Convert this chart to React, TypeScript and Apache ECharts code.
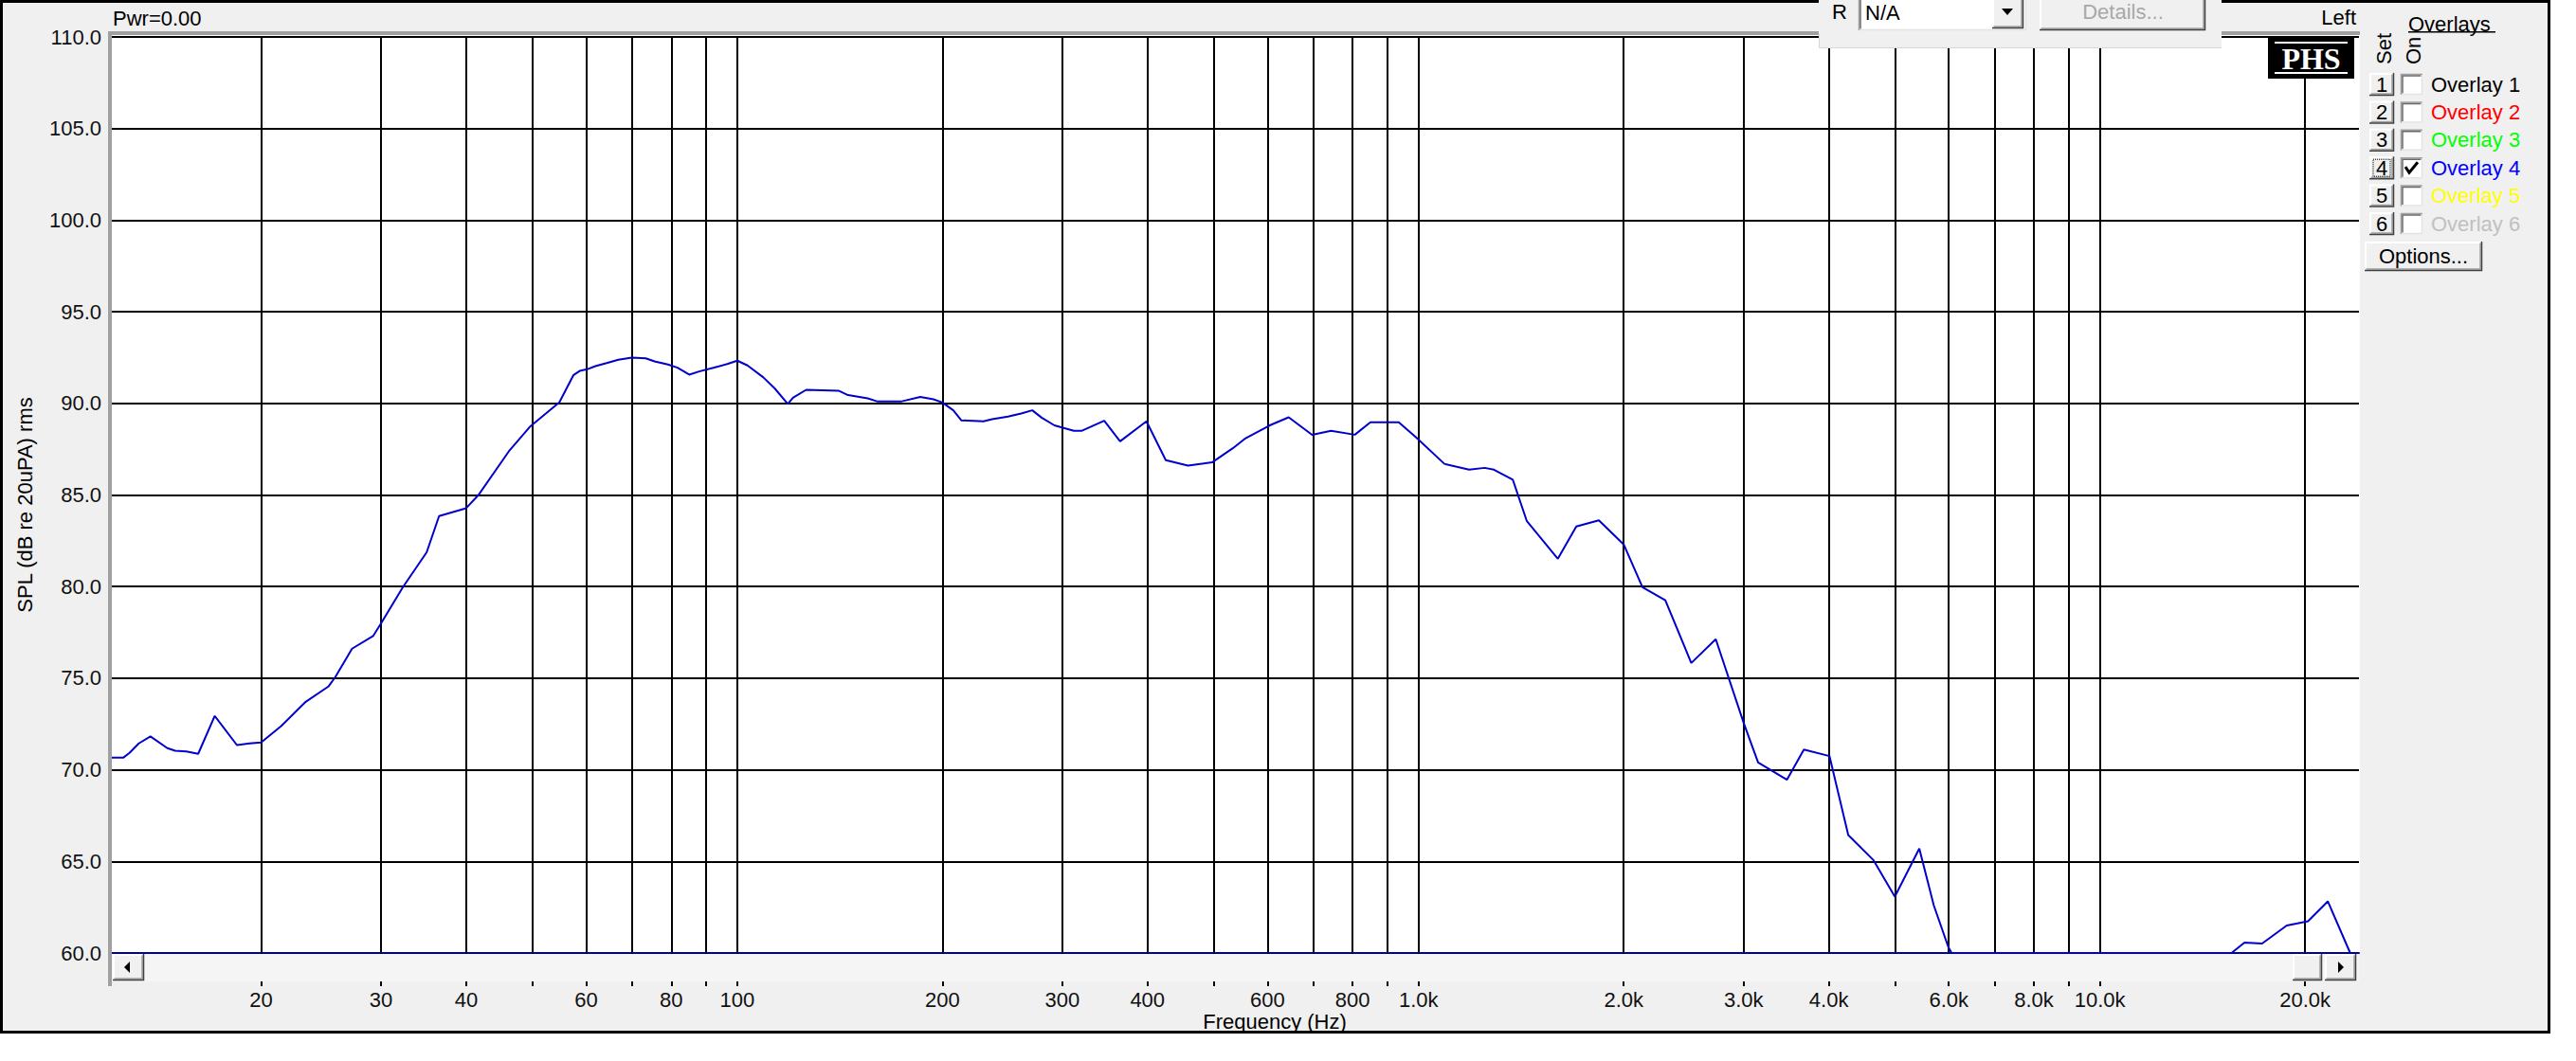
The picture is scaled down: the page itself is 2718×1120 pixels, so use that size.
import React, { useEffect, useRef } from "react";
import * as echarts from "echarts";

// ---------- data ----------
const FREQ_HZ = [
  12.0, 12.55, 12.82, 13.23, 13.76, 14.57, 14.96, 15.54, 16.17, 17.1, 18.43, 19.23, 20.0,
  21.4, 23.2, 25.1, 25.7, 27.2, 29.2, 30.0, 32.3, 35.0, 36.5, 40.0, 41.7, 46.2, 49.6,
  54.8, 57.5, 58.7, 60.2, 61.9, 64.3, 66.9, 70.0, 73.4, 75.6, 79.1, 81.7, 85.0, 87.9,
  92.5, 96.9, 100, 103.5, 109.1, 113.4, 118.6, 120.7, 126.2, 140.8, 145.4, 155.4, 160.7,
  173.8, 185.6, 194.1, 200, 207.5, 213.3, 229.8, 236.6, 249.6, 261, 271, 279.7, 292,
  311.8, 320, 345.6, 364.6, 398.6, 425.5, 458.6, 497.6, 533.7, 557.4, 604.6, 644.6,
  697.7, 743.7, 806.1, 849.7, 935, 990.8, 1091, 1186, 1250, 1290, 1375, 1441, 1601,
  1704, 1839, 2000, 2131, 2302, 2513, 2730, 3000, 3150, 3473, 3677, 4009, 4272, 4654,
  5000, 5431, 5704, 5993, 6060, 15600, 16300, 17300, 18800, 20200, 21600, 23300,
];
const SPL_DB = [
  70.66, 70.66, 70.92, 71.44, 71.82, 71.18, 71.04, 71.0, 70.87, 72.94, 71.35, 71.44, 71.49,
  72.38, 73.68, 74.54, 75.06, 76.61, 77.3, 77.99, 79.97, 81.87, 83.85, 84.28, 85.0, 87.38, 88.72,
  90.05, 91.55, 91.77, 91.86, 92.03, 92.2, 92.38, 92.5, 92.46, 92.29, 92.12, 91.95, 91.57, 91.74,
  91.95, 92.16, 92.33, 92.07, 91.43, 90.83, 89.97, 90.31, 90.74, 90.69, 90.45, 90.27, 90.1,
  90.1, 90.35, 90.22, 90.05, 89.62, 89.07, 89.02, 89.14, 89.28, 89.45, 89.62, 89.22, 88.8,
  88.5, 88.5, 89.05, 87.93, 89.02, 86.9, 86.6, 86.78, 87.55, 88.1, 88.8, 89.24,
  88.28, 88.5, 88.29, 88.97, 88.97, 88.15, 86.7, 86.38, 86.48, 86.38, 85.83, 83.59, 81.52,
  83.28, 83.62, 82.3, 79.97, 79.25, 75.83, 77.13, 72.56, 70.4, 69.46, 71.1, 70.75, 66.44, 65.06,
  63.08, 65.7, 62.6, 60.31, 60, 60, 60.57, 60.52, 61.5, 61.73, 62.82, 60,
];
const GRID_FREQS = [
  20, 30, 40, 50, 60, 70, 80, 90, 100, 200, 300, 400, 500, 600, 700, 800, 900,
  1000, 2000, 3000, 4000, 5000, 6000, 7000, 8000, 9000, 10000, 20000,
];
const LABEL_FREQS = [
  20, 30, 40, 60, 80, 100, 200, 300, 400, 600, 800, 1000, 2000, 3000, 4000, 6000, 8000, 10000, 20000,
];
const X_MIN = 12;
const X_MAX = 24000;
const Y_MIN = 60;
const Y_MAX = 110;
const Y_STEP = 5;
const OVERLAY_NAMES = ["Overlay 1", "Overlay 2", "Overlay 3", "Overlay 4", "Overlay 5", "Overlay 6"];
const OVERLAY_COLORS = ["#000000", "#ff0000", "#00ff00", "#0000ff", "#ffff00", "#c0c0c0"];
const OVERLAY_CHECKED = [false, false, false, true, false, false];

const FONT = "'Liberation Sans', Arial, sans-serif";
const FS = 22;

function txt(text: string, x: number, y: number, opts: any = {}) {
  const align = opts.align || "left";
  const valign = opts.valign || "middle";
  return {
    type: "text",
    x,
    y,
    rotation: opts.rotation || 0,
    z: opts.z ?? 20,
    silent: true,
    style: {
      text,
      fontSize: opts.fontSize || FS,
      fontFamily: opts.fontFamily || FONT,
      fontWeight: opts.fontWeight || "normal",
      fill: opts.fill || "#000",
      align,
      textAlign: align,
      verticalAlign: valign,
      textVerticalAlign: valign,
    },
  };
}

function pl(points: number[][], stroke: string, lw: number, z: number) {
  return { type: "polyline", z, silent: true, shape: { points }, style: { stroke, lineWidth: lw, fill: null } };
}

function raised(x: number, y: number, w: number, h: number, z: number) {
  return [
    { type: "rect", z, silent: true, shape: { x, y, width: w, height: h }, style: { fill: "#f0f0f0" } },
    pl([[x + 1, y + h - 1], [x + 1, y + 1], [x + w - 1, y + 1]], "#ffffff", 2, z),
    pl([[x + 1.5, y + h - 2], [x + w - 2, y + h - 2], [x + w - 2, y + 1.5]], "#a0a0a0", 1.5, z),
    pl([[x, y + h - 0.5], [x + w - 0.5, y + h - 0.5], [x + w - 0.5, y]], "#404040", 1.5, z),
  ];
}

function sunken(x: number, y: number, w: number, h: number, z: number) {
  return [
    { type: "rect", z, silent: true, shape: { x, y, width: w, height: h }, style: { fill: "#ffffff" } },
    pl([[x + 0.5, y + h], [x + 0.5, y + 0.5], [x + w, y + 0.5]], "#a0a0a0", 1.5, z),
    pl([[x + 2, y + h - 1.5], [x + 2, y + 2], [x + w - 1.5, y + 2]], "#696969", 1.5, z),
    pl([[x + 1, y + h - 0.5], [x + w - 0.5, y + h - 0.5], [x + w - 0.5, y + 1]], "#e3e3e3", 1.5, z),
  ];
}

function buildGraphic() {
  const els: any[] = [];
  // outer frame and plot background
  els.push({ type: "rect", z: -2, silent: true, shape: { x: 1.5, y: 1.5, width: 2688, height: 1088 }, style: { fill: "#f0f0f0", stroke: "#000", lineWidth: 3 } });
  els.push({ type: "rect", z: -1, silent: true, shape: { x: 116, y: 37, width: 2374, height: 969 }, style: { fill: "#ffffff" } });
  // gray plot borders
  els.push({ type: "rect", z: 5, silent: true, shape: { x: 114, y: 33, width: 2376, height: 4 }, style: { fill: "#a0a0a0" } });
  els.push({ type: "rect", z: 5, silent: true, shape: { x: 114, y: 33, width: 4, height: 1008 }, style: { fill: "#a0a0a0" } });
  // scrollbar
  els.push({ type: "rect", z: 10, silent: true, shape: { x: 118, y: 1007, width: 2371, height: 29 }, style: { fill: "#f5f5f5" } });
  els.push(...raised(119, 1007, 33, 28, 11));
  els.push({ type: "polygon", z: 12, silent: true, shape: { points: [[131, 1021], [137, 1015], [137, 1027]] }, style: { fill: "#000" } });
  els.push(...raised(2419, 1007, 31, 28, 11));
  els.push(...raised(2453, 1007, 33, 28, 11));
  els.push({ type: "polygon", z: 12, silent: true, shape: { points: [[2473, 1021], [2467, 1015], [2467, 1027]] }, style: { fill: "#000" } });

  // texts
  els.push(txt("Pwr=0.00", 119, 19));
  els.push(txt("Left", 2486, 18, { align: "right" }));
  els.push(txt("SPL (dB re 20uPA) rms", 26, 533, { align: "center", rotation: Math.PI / 2 }));
  els.push(txt("Frequency (Hz)", 1345, 1078, { align: "center" }));

  // top panel
  els.push({ type: "rect", z: 20, silent: true, shape: { x: 1919, y: 0, width: 425, height: 51 }, style: { fill: "#f0f0f0" } });
  els.push(pl([[1919.5, 36], [1919.5, 50.5], [2344, 50.5]], "#d8d8d8", 1, 21));
  els.push(txt("R", 1933, 12, { z: 22 }));
  els.push(...sunken(1961, -3, 177, 35, 21));
  els.push(txt("N/A", 1968, 13, { z: 22 }));
  els.push(...raised(2102, -3, 33, 33, 22));
  els.push({ type: "polygon", z: 23, silent: true, shape: { points: [[2112, 9], [2124, 9], [2118, 16]] }, style: { fill: "#000" } });
  els.push(...raised(2152, -3, 175, 35, 21));
  els.push(txt("Details...", 2240, 12, { align: "center", fill: "#a8a8a8", z: 22 }));

  // PHS logo
  els.push({ type: "rect", z: 20, silent: true, shape: { x: 2393, y: 38, width: 91, height: 45 }, style: { fill: "#000" } });
  els.push({ type: "rect", z: 21, silent: true, shape: { x: 2400, y: 44, width: 77, height: 2 }, style: { fill: "#fff" } });
  els.push({ type: "rect", z: 21, silent: true, shape: { x: 2400, y: 76, width: 77, height: 2 }, style: { fill: "#fff" } });
  els.push(txt("PHS", 2438.5, 62, { align: "center", fill: "#fff", fontFamily: "'Liberation Serif', 'Times New Roman', serif", fontWeight: "bold", fontSize: 32, z: 21 }));

  // overlays panel
  els.push(txt("Overlays", 2541, 25));
  els.push({ type: "rect", z: 20, silent: true, shape: { x: 2541, y: 33, width: 92, height: 1.5 }, style: { fill: "#000" } });
  els.push(txt("Set", 2515, 68, { rotation: Math.PI / 2 }));
  els.push(txt("On", 2546, 68, { rotation: Math.PI / 2 }));
  OVERLAY_NAMES.forEach((name, i) => {
    const yc = 89 + i * 29.4;
    els.push(...raised(2500, yc - 12, 26, 24, 20));
    els.push(txt(String(i + 1), 2513, yc, { align: "center", z: 21 }));
    if (i === 3) {
      els.push({ type: "rect", z: 21, silent: true, shape: { x: 2504, y: yc - 9, width: 18, height: 18 }, style: { fill: null, stroke: "#000", lineWidth: 1, lineDash: [1, 1] } });
    }
    els.push(...sunken(2533, yc - 11, 23, 22, 20));
    if (OVERLAY_CHECKED[i]) {
      els.push(pl([[2538, yc - 1], [2542, yc + 5], [2551, yc - 6]], "#000", 3, 21));
    }
    els.push(txt(name, 2565, yc, { fill: OVERLAY_COLORS[i] }));
  });
  els.push(...raised(2495, 255, 124, 31, 20));
  els.push(txt("Options...", 2557, 270, { align: "center", z: 21 }));
  return els;
}

function fmtFreq(v: number) {
  const r = Math.round(v);
  return r >= 1000 ? (r / 1000).toFixed(1) + "k" : String(r);
}

export default function App() {
  const ref = useRef<HTMLDivElement>(null);
  useEffect(() => {
    const chart = echarts.init(ref.current as HTMLDivElement, null, { renderer: "svg", width: 2718, height: 1120 });
    chart.setOption({
      animation: false,
      backgroundColor: "#ffffff",
      textStyle: { fontFamily: FONT },
      grid: { left: 116, top: 39, width: 2373, height: 967, containLabel: false },
      xAxis: {
        type: "log",
        logBase: 10,
        min: X_MIN,
        max: X_MAX,
        axisLine: { show: true, onZero: false, lineStyle: { color: "#00009c", width: 2 } },
        axisTick: { show: true, customValues: GRID_FREQS, length: 35, lineStyle: { color: "#000", width: 2 } },
        axisLabel: {
          show: true,
          customValues: LABEL_FREQS,
          formatter: (v: number) => fmtFreq(v),
          fontSize: FS,
          fontFamily: FONT,
          color: "#111",
          margin: 38,
        },
        splitLine: { show: true, lineStyle: { color: "#000", width: 2 } },
        minorTick: { show: false },
        minorSplitLine: { show: false },
      },
      yAxis: {
        type: "value",
        min: Y_MIN,
        max: Y_MAX,
        interval: Y_STEP,
        axisLine: { show: false },
        axisTick: { show: false },
        axisLabel: {
          formatter: (v: number) => v.toFixed(1),
          fontSize: FS,
          fontFamily: FONT,
          color: "#111",
          margin: 9,
        },
        splitLine: { show: true, showMinLine: false, lineStyle: { color: "#000", width: 2 } },
      },
      series: [
        {
          type: "line",
          data: FREQ_HZ.map((f, i) => [f, SPL_DB[i]]),
          showSymbol: false,
          symbol: "none",
          clip: true,
          silent: true,
          lineStyle: { color: "#0000cc", width: 2 },
          z: 3,
        },
      ],
      graphic: { elements: buildGraphic() },
    });
    return () => chart.dispose();
  }, []);
  return <div ref={ref} style={{ position: "fixed", left: 0, top: 0, width: 2718, height: 1120 }} />;
}
